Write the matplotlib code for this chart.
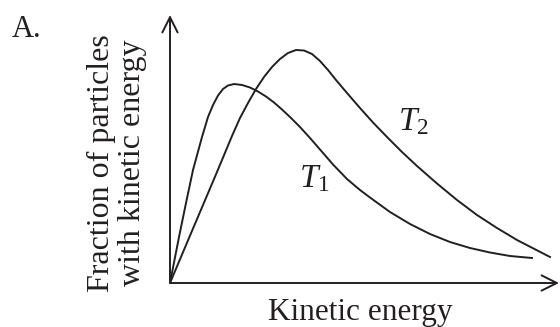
import matplotlib.pyplot as plt

plt.rcParams['font.family'] = ['Liberation Serif', 'DejaVu Serif']
plt.rcParams['mathtext.fontset'] = 'custom'
plt.rcParams['mathtext.rm'] = 'Liberation Serif'
plt.rcParams['mathtext.it'] = 'Liberation Serif:italic'

# Curves (energy, fraction), arbitrary units
t1_energy = [0, 9, 16, 23, 32, 38, 43, 48, 53, 58, 64, 72, 80, 88, 96,
             104, 112, 120, 130, 140, 150, 163, 177, 190, 200, 220, 240,
             260, 280, 300, 320, 340, 362]
t1_frac = [0, 46, 80, 113, 146, 166, 178, 187.5, 194, 197.5, 199, 198,
           195.5, 191.5, 186.5, 180.5, 173.5, 166, 156, 145, 133.5, 118.5,
           104, 93, 85.5, 71, 59, 49, 41, 35, 30.5, 27, 25]

t2_energy = [0, 19, 33, 47, 62, 70, 78, 86, 94, 102, 110, 118, 126, 134,
             142, 150, 158, 166, 177, 190, 203, 217, 232, 247, 267, 287,
             307, 327, 347, 380]
t2_frac = [0, 45, 78, 111, 147, 165, 180, 194, 206, 216, 224, 230, 233,
           232.5, 229, 222, 213, 203, 190, 175, 160.5, 146, 131, 117, 99.5,
           83, 68, 55, 43, 26]

ink = '#231f20'
W, H = 560, 327
x0, y0 = 170, 283  # origin in pixels

fig = plt.figure(figsize=(W / 100, H / 100), dpi=100)
ax = fig.add_axes([x0 / W, (H - y0) / H, (559 - x0) / W, (y0 - 15) / H])
ax.set_xlim(0, 389)
ax.set_ylim(0, 268)
ax.axis('off')

ax.plot(t1_energy, t1_frac, color=ink, lw=1.4, solid_joinstyle='round')
ax.plot(t2_energy, t2_frac, color=ink, lw=1.4, solid_joinstyle='round')

arrow = dict(arrowstyle='->,head_length=1.1,head_width=0.55', color=ink,
             lw=1.4, shrinkA=0, shrinkB=0, mutation_scale=10)
ax.annotate('', xy=(389, 0), xytext=(0, 0), arrowprops=arrow,
            annotation_clip=False)
ax.annotate('', xy=(0, 268), xytext=(0, 0), arrowprops=arrow,
            annotation_clip=False)


def px(x, y):
    return x / W, 1 - y / H


fig.text(*px(12, 37), 'A.', fontsize=22, color=ink, va='baseline')
fig.text(*px(117, 163), 'Fraction of particles\nwith kinetic energy',
         fontsize=23, color=ink, rotation=90, ha='center', va='center',
         linespacing=1.05)
fig.text(*px(360, 320), 'Kinetic energy', fontsize=22.5, color=ink,
         ha='center', va='baseline')

fig.text(*px(299, 187), r'$T_{\mathit{1}}$', fontsize=24, color=ink,
         va='baseline')
fig.text(*px(398, 130), r'$T_2$', fontsize=24, color=ink, va='baseline')

fig.savefig('out.png', dpi=100, facecolor='white')
